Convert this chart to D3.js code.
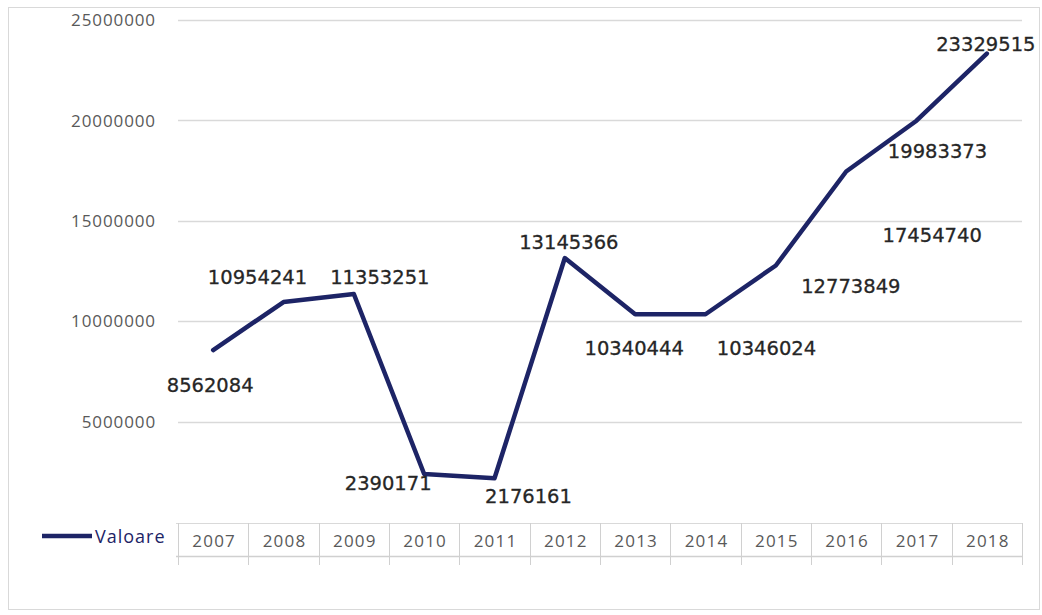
<!DOCTYPE html>
<html>
<head>
<meta charset="utf-8">
<script src="https://cdn.jsdelivr.net/npm/d3@7"></script>
<style>
  body { margin: 0; background: #fff; }
  svg text { font-family: "Open Sans", sans-serif; }
</style>
</head>
<body>
<div id="chart"></div>
<script>
'use strict';

// data
const years = ["2007", "2008", "2009", "2010", "2011", "2012", "2013", "2014", "2015", "2016", "2017", "2018"];
const values = [8562084, 10954241, 11353251, 2390171, 2176161, 13145366, 10340444, 10346024, 12773849, 17454740, 19983373, 23329515];
const yTicks = [5000000, 10000000, 15000000, 20000000, 25000000];
const seriesName = "Valoare";

// label placement (manually moved in the original), offset from the point
const labelOffset = [[-3, 35], [-26, -25], [26, -17], [-36, 9], [34, 18], [4, -16],
                     [-1, 34], [61, 34], [75, 20], [86, 63], [21, 30], [-1, -10]];

const W = 1042, H = 615;
const plotLeft = 178, plotRight = 1022, plotTop = 20, plotBottom = 522;
const lineColor = "#1d2466";

const svg = d3.select("#chart").append("svg")
    .attr("width", W).attr("height", H);

// outer chart border
svg.append("rect")
    .attr("x", 8.5).attr("y", 7.5)
    .attr("width", 1031).attr("height", 602)
    .attr("fill", "#fff")
    .attr("stroke", "#d9d9d9");

const x = d3.scaleBand().domain(years).range([plotLeft, plotRight]);
const y = d3.scaleLinear().domain([0, 25000000]).range([plotBottom, plotTop]);

// gridlines
svg.append("g").selectAll("line")
    .data(yTicks).enter().append("line")
    .attr("x1", plotLeft).attr("x2", plotRight)
    .attr("y1", d => Math.round(y(d)) + 0.5)
    .attr("y2", d => Math.round(y(d)) + 0.5)
    .attr("stroke", "#d9d9d9").attr("stroke-width", 1.5);

// y tick labels
svg.append("g").selectAll("text")
    .data(yTicks).enter().append("text")
    .attr("x", 156).attr("y", d => y(d))
    .attr("dy", "0.36em")
    .attr("text-anchor", "end")
    .attr("fill", "#595959")
    .style("font-size", "17px")
    .style("letter-spacing", "0.9px")
    .text(d => d);

// data table under the plot
const table = svg.append("g");
const rowTop = plotBottom + 1, rowBottom = 556;
table.append("line")
    .attr("x1", plotLeft - 2).attr("x2", plotRight)
    .attr("y1", rowTop + 0.5).attr("y2", rowTop + 0.5)
    .attr("stroke", "#d9d9d9");
table.append("line")
    .attr("x1", plotLeft - 2).attr("x2", plotRight)
    .attr("y1", rowBottom + 0.5).attr("y2", rowBottom + 0.5)
    .attr("stroke", "#d0d0d0").attr("stroke-width", 1.5);
const edges = years.map(d => x(d)).concat([plotRight]);
table.selectAll("line.v")
    .data(edges).enter().append("line")
    .attr("class", "v")
    .attr("x1", d => Math.round(d) + 0.5).attr("x2", d => Math.round(d) + 0.5)
    .attr("y1", rowTop).attr("y2", 565)
    .attr("stroke", "#d0d0d0");
table.selectAll("text")
    .data(years).enter().append("text")
    .attr("x", d => x(d) + x.bandwidth() / 2 + 1)
    .attr("y", 541)
    .attr("dy", "0.36em")
    .attr("text-anchor", "middle")
    .attr("fill", "#595959")
    .style("font-size", "17px")
    .style("letter-spacing", "1.2px")
    .text(d => d);

// legend key in the table
svg.append("line")
    .attr("x1", 42).attr("x2", 92)
    .attr("y1", 536).attr("y2", 536)
    .attr("stroke", lineColor).attr("stroke-width", 4.5);
svg.append("text")
    .attr("x", 95).attr("y", 537)
    .attr("dy", "0.36em")
    .attr("fill", lineColor)
    .style("font-size", "18px")
    .style("letter-spacing", "1px")
    .text(seriesName);

// the series
const cx = (d, i) => x(years[i]) + x.bandwidth() / 2;
const line = d3.line()
    .x((d, i) => cx(d, i))
    .y(d => y(d));

svg.append("path")
    .datum(values)
    .attr("d", line)
    .attr("fill", "none")
    .attr("stroke", lineColor)
    .attr("stroke-width", 4.5)
    .attr("stroke-linejoin", "round")
    .attr("stroke-linecap", "round");

// data labels
svg.append("g").selectAll("text")
    .data(values).enter().append("text")
    .attr("x", (d, i) => cx(d, i) + labelOffset[i][0])
    .attr("y", (d, i) => y(d) + labelOffset[i][1])
    .attr("dy", "0.36em")
    .attr("text-anchor", "middle")
    .attr("fill", "#262626")
    .attr("stroke", "#262626")
    .attr("stroke-width", 0.3)
    .style("font-family", "'DejaVu Sans', sans-serif")
    .style("font-size", "19.5px")
    .text(d => d);
</script>
</body>
</html>
